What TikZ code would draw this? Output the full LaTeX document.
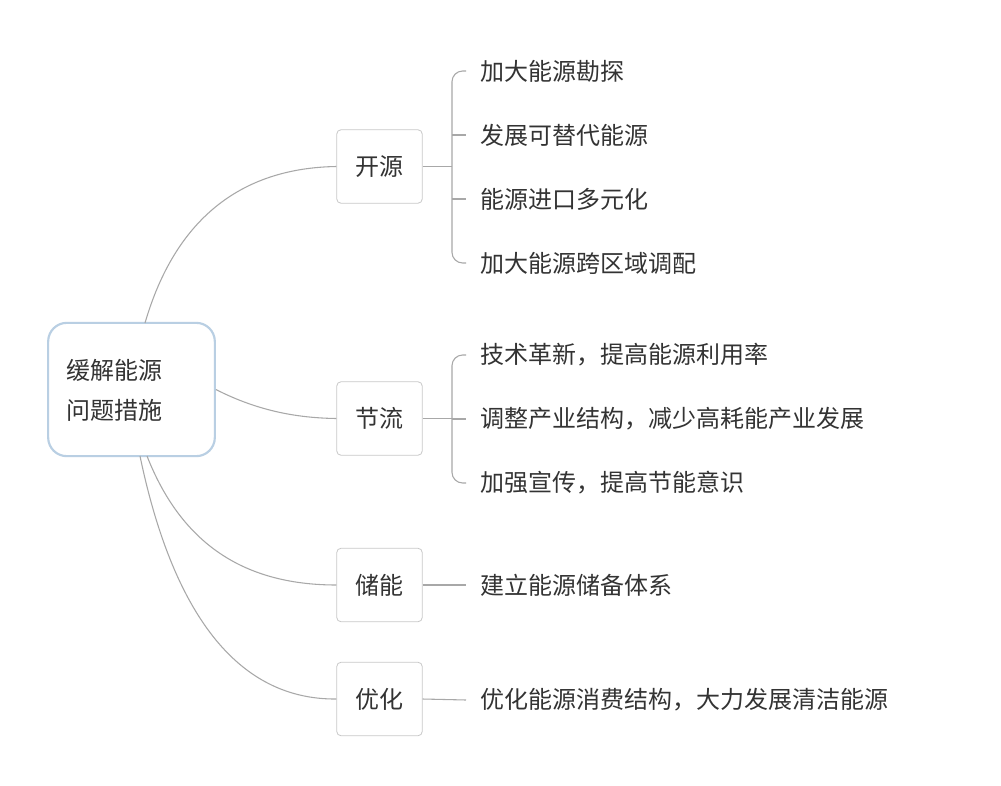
\documentclass[tikz,border=0pt]{standalone}
\usetikzlibrary{calc}
\usepackage{fontspec}
\setmainfont{Noto Sans CJK SC}
\begin{document}
\begin{tikzpicture}[x=0.75pt,y=-0.75pt,
  rootbox/.style={draw=rootblue,line width=1.6pt,rounded corners=14pt,minimum width=125pt,minimum height=100pt,fill=white},
  branchbox/.style={draw=boxgray,line width=0.6pt,rounded corners=3pt,minimum width=64pt,minimum height=55pt,font=\fontsize{18}{20}\selectfont,text=txt},
  leaf/.style={anchor=west,font=\fontsize{18}{20}\selectfont,text=txt,inner sep=0pt},
  conn/.style={draw=linegray,line width=0.8pt}]
\definecolor{rootblue}{HTML}{B9CFE3}
\definecolor{boxgray}{HTML}{C8C8C8}
\definecolor{linegray}{HTML}{A8A8A8}
\definecolor{txt}{HTML}{333333}
\useasboundingbox[fill=white] (0,0) rectangle (1001,786);
\node[rootbox] (root) at (131.5,389.5) {};
\node[anchor=west,font=\fontsize{18}{30}\selectfont,text=txt,align=left] (roottxt) at (62,390) {缓解能源\\问题措施};
\node[branchbox] (b1) at (379.5,166.5) {开源};
\node[branchbox] (b2) at (379.5,418.5) {节流};
\node[branchbox] (b3) at (379.5,585) {储能};
\node[branchbox] (b4) at (379.5,699) {优化};
\coordinate (r1) at (145,323);
\coordinate (r3) at (147,456);
\coordinate (r4) at (140,456);
\draw[conn] (r1) .. controls (175,220) and (240,168) .. (b1.west);
\draw[conn] (root.east) .. controls (260,412) and (300,418) .. (b2.west);
\draw[conn] (r3) .. controls (180,540) and (240,585) .. (b3.west);
\draw[conn] (r4) .. controls (170,600) and (230,700) .. (b4.west);
% leaves
\node[leaf] (l11) at (480,71) {加大能源勘探};
\node[leaf] (l12) at (480,135) {发展可替代能源};
\node[leaf] (l13) at (480,199) {能源进口多元化};
\node[leaf] (l14) at (480,263) {加大能源跨区域调配};
\node[leaf] (l21) at (480,355) {技术革新，提高能源利用率};
\node[leaf] (l22) at (480,419) {调整产业结构，减少高耗能产业发展};
\node[leaf] (l23) at (480,483) {加强宣传，提高节能意识};
\node[leaf] (l31) at (480,585) {建立能源储备体系};
\node[leaf] (l41) at (480,700) {优化能源消费结构，大力发展清洁能源};
% brackets
\coordinate (k1) at (452,166.5);
\draw[conn] (b1.east) -- (k1);
\draw[conn,rounded corners=8pt] ($(l11.west)+(-14,0)$) -- (452,71) -- (452,263) -- ($(l14.west)+(-14,0)$);
\draw[conn] (452,135) -- ($(l12.west)+(-14,0)$);
\draw[conn] (452,199) -- ($(l13.west)+(-14,0)$);
\coordinate (k2) at (452,418.5);
\draw[conn] (b2.east) -- (k2);
\draw[conn,rounded corners=8pt] ($(l21.west)+(-14,0)$) -- (452,355) -- (452,483) -- ($(l23.west)+(-14,0)$);
\draw[conn] (452,419) -- ($(l22.west)+(-14,0)$);
\draw[conn] (b3.east) -- ($(l31.west)+(-14,0)$);
\draw[conn] (b4.east) -- ($(l41.west)+(-14,0)$);
\end{tikzpicture}
\end{document}
